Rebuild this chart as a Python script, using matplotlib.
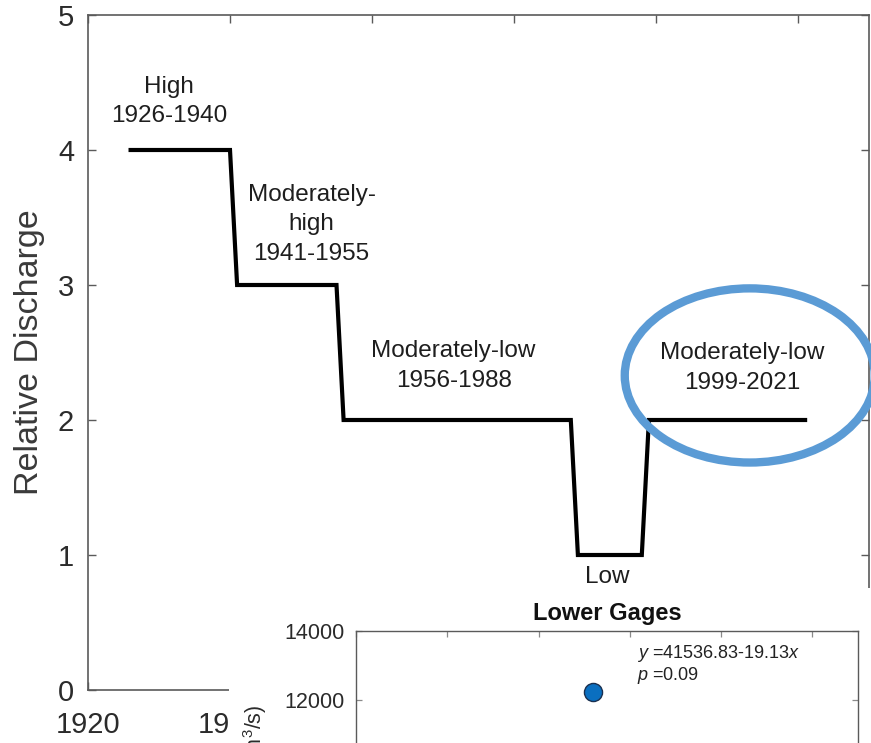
import matplotlib
matplotlib.use("Agg")
import matplotlib.pyplot as plt
from matplotlib.patches import Ellipse, Rectangle

plt.rcParams['font.family'] = ['Liberation Sans', 'DejaVu Sans']
plt.rcParams['mathtext.fontset'] = 'custom'
plt.rcParams['mathtext.rm'] = 'Liberation Sans'
plt.rcParams['mathtext.it'] = 'Liberation Sans:italic'

# Relative discharge regimes (step outline)
years = [1926, 1940, 1941, 1955, 1956, 1988, 1989, 1998, 1999, 2021]
rel_discharge = [4, 4, 3, 3, 2, 2, 1, 1, 2, 2]

regime_labels = ["High\n1926-1940",
                 "Moderately-\nhigh\n1941-1955",
                 "Moderately-low\n1956-1988",
                 "Low",
                 "Moderately-low\n1999-2021"]
label_x = [1931.4, 1951.5, 1971.5, 1993.2, 2012.1]
label_y = [4.36, 3.45, 2.40, 0.84, 2.385]

x_ticks = [1920, 1940, 1960, 1980, 2000, 2020]
y_ticks = [0, 1, 2, 3, 4, 5]

# Lower gages scatter
gage_years = [1971.9]
gage_flow = [12230]
fit_eq = "$y$ =41536.83-19.13$x$"
fit_p = "$p$ =0.09"
inset_yticks = [12000, 14000]

W, H = 871, 743
fig = plt.figure(figsize=(W / 100, H / 100), dpi=100)

def fx(px):
    return px / W

def fy(py):
    return 1 - py / H

spine_col = '#5a5a5a'
text_col = '#2b2b2b'

ax = fig.add_axes([fx(88), fy(690), fx(869) - fx(88), fy(15) - fy(690)])
ax.plot(years, rel_discharge, color='black', lw=3.0, solid_joinstyle='miter')
ax.set_xlim(1920, 2030)
ax.set_ylim(0, 5)
ax.set_xticks(x_ticks)
ax.set_yticks(y_ticks)
ax.tick_params(direction='in', length=6, width=1.0, color=spine_col,
               top=True, right=True, labelsize=21, labelcolor=text_col)
ax.tick_params(axis='x', pad=15)
ax.tick_params(axis='y', pad=10)
for s in ax.spines.values():
    s.set_color(spine_col)
    s.set_linewidth(1.2)
ax.set_ylabel("Relative Discharge", fontsize=24.5, color='#3a3a3a', labelpad=9)

for txt, x, y in zip(regime_labels, label_x, label_y):
    ax.text(x, y, txt, ha='center', va='center', fontsize=17.5,
            color='#1e1e1e', linespacing=1.45)

# Highlight around the latest regime
ell = Ellipse((2013.2, 2.33), width=35.2, height=1.29, fill=False,
              edgecolor='#5B9BD5', lw=6, clip_on=False, zorder=5)
ax.add_patch(ell)

# Inset panel background
fig.patches.append(Rectangle((fx(229), 0), 1 - fx(229), fy(588), transform=fig.transFigure,
                             facecolor='white', edgecolor='none', zorder=1))

iax = fig.add_axes([fx(356), fy(976), fx(858) - fx(356), fy(631) - fy(976)], zorder=2)
iax.scatter(gage_years, gage_flow, s=170, color='#0a6fc0', edgecolor='#1a3050',
            linewidth=1.0, zorder=3)
iax.set_xlim(1920, 2030)
iax.set_ylim(4000, 14000)
iax.set_xticks(x_ticks)
iax.set_yticks(inset_yticks)
iax.tick_params(direction='in', length=4, width=0.9, color='#8a8a8a',
                top=True, right=True, labelsize=15.5, labelcolor=text_col, pad=8,
                labelbottom=False)
for s in iax.spines.values():
    s.set_color(spine_col)
    s.set_linewidth(1.0)
iax.set_title("Lower Gages", fontsize=17, fontweight='bold', color='#111111', pad=8)
iax.text(fx(637), fy(658), fit_eq, transform=fig.transFigure, ha='left',
         va='baseline', fontsize=13, color='#222222')
iax.text(fx(637), fy(680), fit_p, transform=fig.transFigure, ha='left',
         va='baseline', fontsize=13, color='#222222')

fig.text(fx(255), fy(705), "Discharge (m$^3$/s)", rotation=90, ha='center', va='top',
         fontsize=15.5, color=text_col, zorder=3)

fig.savefig("out.png", dpi=100)
